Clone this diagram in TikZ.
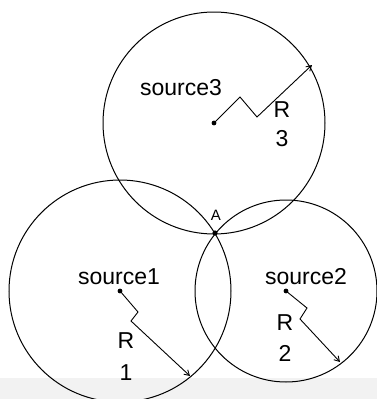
\documentclass[tikz,border=0pt]{standalone}
\usepackage{fontspec}
\setmainfont{Liberation Sans}
\usetikzlibrary{calc, positioning}
\usetikzlibrary{arrows.meta}

\tikzset{
  lbl/.style={font=\fontsize{23}{23}\selectfont, inner sep=0pt},
  rline/.style={-{Straight Barb[length=5pt, width=6pt]}, line width=0.9pt},
}

\begin{document}
\begin{tikzpicture}[x=1pt, y=-1pt, line width=1pt]
\useasboundingbox (0,0) rectangle (377,399);
\fill[black!5] (0,378) rectangle (377,399);

% centres, point A and the ends of the radii
\coordinate (s1) at (120,291);
\coordinate (s2) at (286,291);
\coordinate (s3) at (214,123);
\coordinate (A) at (215,233);
\coordinate (t1) at (190,376);
\coordinate (t2) at (340,362);
\coordinate (t3) at (312,65);

\foreach \s/\r in {s1/111, s2/91, s3/111} {
  \draw (\s) circle[radius=\r pt];
  \fill (\s) circle[radius=2.4pt];
}
\fill (A) circle[radius=2.6pt];

\draw[rline] (s3) -- ++(26,-26) -- ++(17,20) -- (t3);
\draw[rline] (s1) -- ++(18,21) -- ++(-7,9) -- (t1);
\draw[rline] (s2) -- ++(21,17) -- ++(-7,11) -- (t2);

\node[lbl] (src3) at (181,88) {source3};
\node[lbl] (src1) at (119,277) {source1};
\node[lbl] (src2) at (306,277) {source2};
\node[lbl] (r3) at (282,110) {R};
\node[lbl] (n3) at (282,139) {3};
\node[lbl] (r1) at (126,341) {R};
\node[lbl] (n1) at (126,373) {1};
\node[lbl] (r2) at (285,323) {R};
\node[lbl] (n2) at (285,353) {2};
\node[lbl, font=\fontsize{15}{15}\selectfont] (a) at (216,215) {A};
\end{tikzpicture}
\end{document}
